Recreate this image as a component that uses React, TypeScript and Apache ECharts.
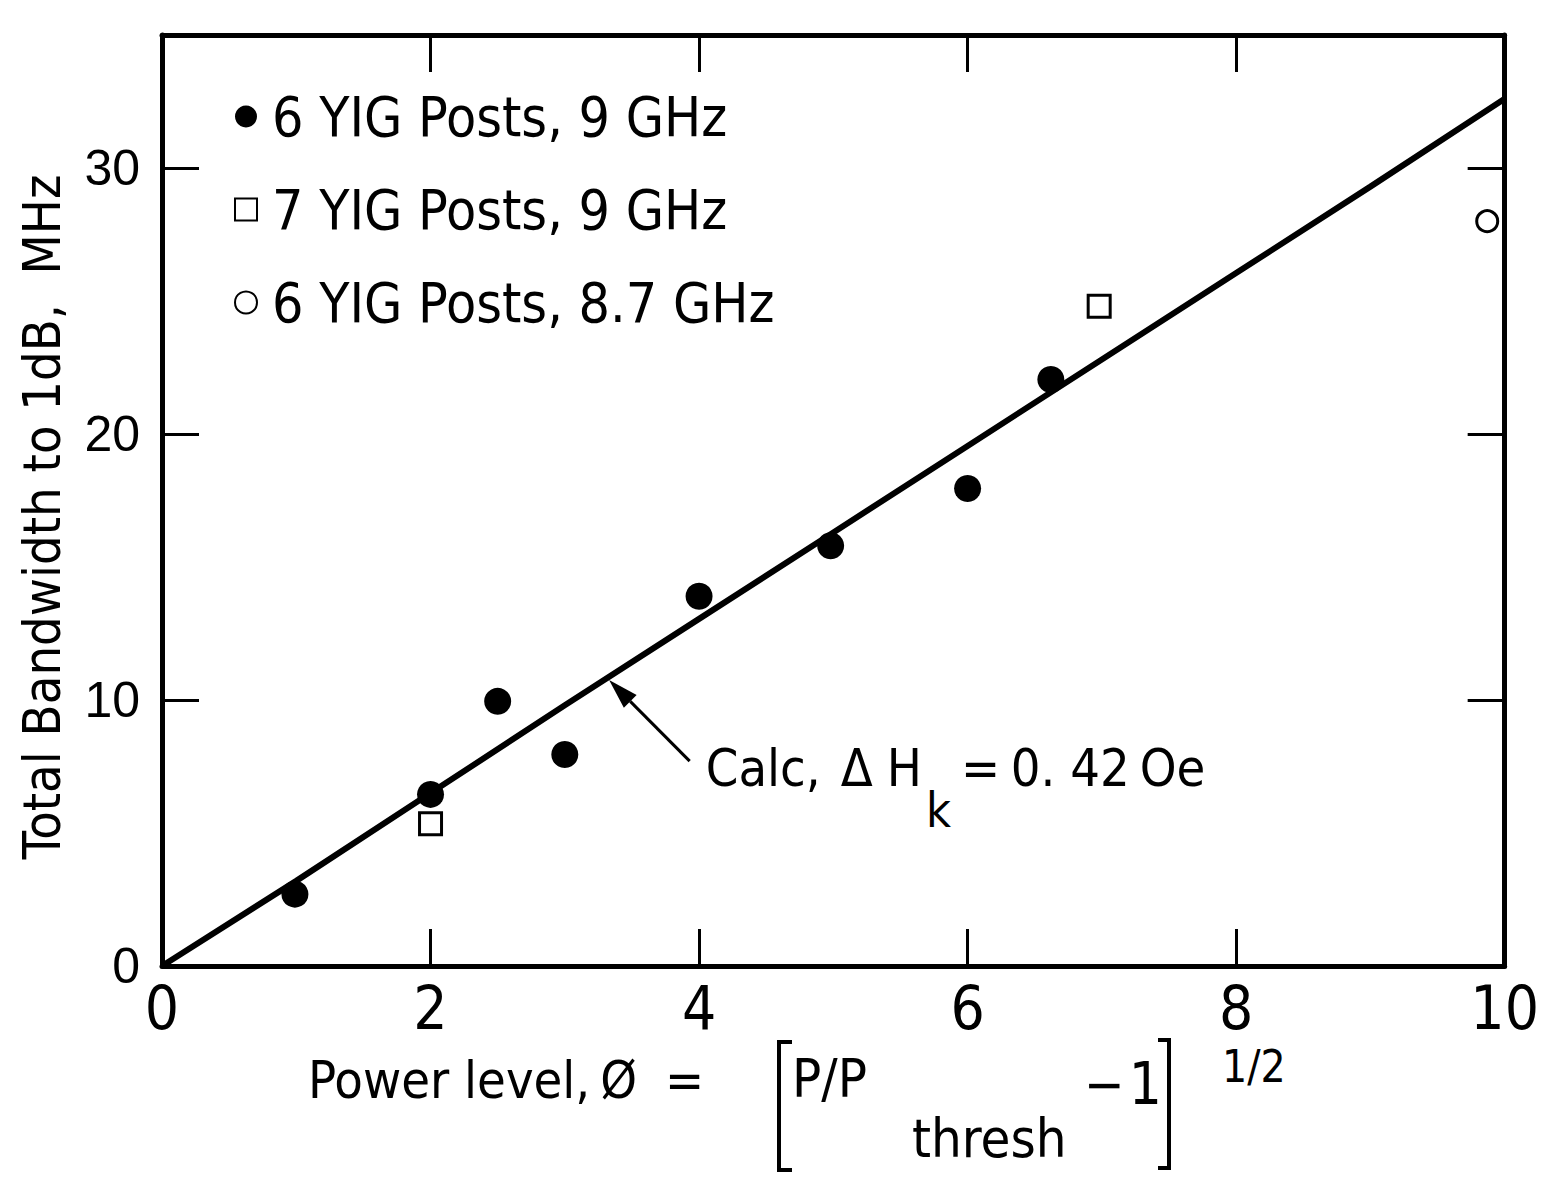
import React, { useEffect, useRef } from "react";
import * as echarts from "echarts";

const FONT = "'Liberation Sans Narrow', 'DejaVu Sans Condensed', 'Roboto Condensed', 'Liberation Sans', sans-serif";
const FONT_WIDE = "'Liberation Sans', Arial, sans-serif";

// Data
const xTickLabels = ["0", "2", "4", "6", "8", "10"];
const yTickLabels = ["0", "10", "20", "30"];
const sixPosts9GHz: [number, number][] = [
  [0.99, 2.7], [2.0, 6.45], [2.5, 9.95], [3.0, 7.95], [4.0, 13.9], [4.98, 15.8], [6.0, 17.95], [6.62, 22.05],
];
const sevenPosts9GHz: [number, number][] = [[2.0, 5.35], [6.98, 24.8]];
const sixPosts87GHz: [number, number][] = [[9.87, 28.0]];
const calcX = [0, 1, 2, 3, 4, 5, 6, 7, 8, 9, 10];
const calcY = [0, 3.2, 6.5, 9.8, 13.05, 16.3, 19.55, 22.8, 26.05, 29.3, 32.6];
const seriesNames = ["6 YIG Posts, 9 GHz", "7 YIG Posts, 9 GHz", "6 YIG Posts, 8.7 GHz"];
const arrowTip: [number, number] = [3.33, 10.75];
const arrowTail: [number, number] = [3.93, 7.7];
const annotLabel = [4.05, 7.45];

type Piece = { text: string; x: number; y: number; size: number; gap?: number };

export default function App() {
  const ref = useRef<HTMLDivElement>(null);
  useEffect(() => {
    const chart = echarts.init(ref.current!, null, { renderer: "svg" });
    const axisLine = { show: true, onZero: false, lineStyle: { color: "#000", width: 5 } };
    const tick = { show: true, inside: true, length: 37, lineStyle: { color: "#000", width: 3 } };
    const option: any = {
      animation: false,
      backgroundColor: "#fff",
      grid: { left: 162, right: 35, top: 35, bottom: 213 },
      legend: {
        data: seriesNames,
        orient: "vertical",
        left: 229,
        top: 84,
        itemGap: 38,
        itemWidth: 22,
        itemHeight: 22,
        textStyle: { fontSize: 55, color: "#000", fontFamily: FONT, padding: [0, 0, 0, 10] },
      },
      xAxis: [
        {
          type: "value", min: 0, max: 10, interval: 2, position: "bottom",
          axisLine, axisTick: tick, splitLine: { show: false },
          axisLabel: {
            fontSize: 60, color: "#000", fontFamily: FONT, margin: 12,
            formatter: (v: number) => xTickLabels[Math.round(v / 2)] ?? "",
          },
        },
        {
          type: "value", min: 0, max: 10, interval: 2, position: "top",
          axisLine, axisTick: tick, splitLine: { show: false }, axisLabel: { show: false },
        },
      ],
      yAxis: [
        {
          type: "value", min: 0, max: 35, interval: 10, position: "left",
          axisLine, axisTick: tick, splitLine: { show: false },
          axisLabel: {
            fontSize: 50, color: "#000", fontFamily: FONT_WIDE, margin: 22, showMaxLabel: false,
            formatter: (v: number) => (v % 10 === 0 ? yTickLabels[v / 10] ?? "" : ""),
          },
        },
        {
          type: "value", min: 0, max: 35, interval: 10, position: "right",
          axisLine, axisTick: tick, splitLine: { show: false }, axisLabel: { show: false },
        },
      ],
      series: [
        {
          name: "Calc", type: "line", xAxisIndex: 0, yAxisIndex: 0,
          data: calcX.map((x, i) => [x, calcY[i]]),
          symbol: "none", lineStyle: { color: "#000", width: 6 }, z: 2,
        },
        {
          name: seriesNames[0], type: "scatter", data: sixPosts9GHz, symbol: "circle", symbolSize: 27,
          itemStyle: { color: "#000", opacity: 1 }, z: 3,
        },
        {
          name: seriesNames[1], type: "scatter", data: sevenPosts9GHz, symbol: "rect", symbolSize: 22,
          itemStyle: { color: "#fff", borderColor: "#000", borderWidth: 3, opacity: 1 }, z: 3,
        },
        {
          name: seriesNames[2], type: "scatter", data: sixPosts87GHz, symbol: "circle", symbolSize: 21,
          itemStyle: { color: "#fff", borderColor: "#000", borderWidth: 3, opacity: 1 }, z: 3,
        },
      ],
    };
    chart.setOption(option);

    const ctx = document.createElement("canvas").getContext("2d")!;
    const measure = (t: string, size: number) => {
      ctx.font = `${size}px ${FONT}`;
      return ctx.measureText(t).width;
    };
    // lay out pieces: each at its preferred x, pushed right if it would overlap the previous one
    const layout = (pieces: Piece[], gap = 6) => {
      let end = -Infinity;
      return pieces.map((p) => {
        const x = Math.max(p.x, end + (p.gap ?? gap));
        end = x + measure(p.text, p.size);
        return {
          type: "text", x, y: p.y,
          style: { text: p.text, fontSize: p.size, fontFamily: FONT, fill: "#000", textVerticalAlign: "middle" },
        };
      });
    };

    const px = (d: number[]) => chart.convertToPixel({ xAxisIndex: 0, yAxisIndex: 0 }, d) as number[];
    const tip = px(arrowTip);
    const tail = px(arrowTail);
    const lab = px(annotLabel);
    const dx = tail[0] - tip[0];
    const dy = tail[1] - tip[1];
    const len = Math.hypot(dx, dy);
    const ux = dx / len, uy = dy / len;
    const hl = 30, hw = 9;
    const bx = tip[0] + ux * hl, by = tip[1] + uy * hl;

    const annot = layout([
      { text: "Calc,", x: lab[0], y: lab[1], size: 52 },
      { text: "\u0394", x: lab[0] + 135, y: lab[1], size: 52 },
      { text: "H", x: lab[0] + 181, y: lab[1], size: 52 },
      { text: "k", x: lab[0] + 214, y: lab[1] + 42, size: 48, gap: 4 },
      { text: "=", x: lab[0] + 251, y: lab[1], size: 52 },
      { text: "0. 42", x: lab[0] + 305, y: lab[1], size: 52 },
      { text: "Oe", x: lab[0] + 428, y: lab[1], size: 52 },
    ], 10);

    const xTitle = layout([
      { text: "Power level,", x: 308, y: 1080, size: 52 },
      { text: "\u00D8", x: 597, y: 1080, size: 52 },
      { text: "=", x: 665, y: 1080, size: 52 },
      { text: "P/P", x: 792, y: 1078, size: 54 },
      { text: "thresh", x: 912, y: 1138, size: 54 },
      { text: "\u2212", x: 1084, y: 1084, size: 54 },
      { text: "1", x: 1128, y: 1084, size: 58, gap: 4 },
      { text: "1/2", x: 1222, y: 1066, size: 44 },
    ], 10);

    chart.setOption({
      graphic: [
        { type: "line", shape: { x1: tail[0], y1: tail[1], x2: bx, y2: by }, style: { stroke: "#000", lineWidth: 3 } },
        {
          type: "polygon",
          shape: { points: [[tip[0], tip[1]], [bx - uy * hw, by + ux * hw], [bx + uy * hw, by - ux * hw]] },
          style: { fill: "#000" },
        },
        ...annot,
        {
          type: "text", x: 42, y: 517, rotation: Math.PI / 2,
          style: {
            text: "Total Bandwidth to 1dB,  MHz", fontSize: 52, fontFamily: FONT, fill: "#000",
            textAlign: "center", textVerticalAlign: "middle",
          },
        },
        ...xTitle,
        { type: "polyline", shape: { points: [[792, 1042], [779, 1042], [779, 1170], [792, 1170]] }, style: { stroke: "#000", lineWidth: 4, fill: "none" } },
        { type: "polyline", shape: { points: [[1158, 1040], [1169, 1040], [1169, 1168], [1158, 1168]] }, style: { stroke: "#000", lineWidth: 4, fill: "none" } },
      ],
    });
    return () => chart.dispose();
  }, []);
  return (
    <div
      ref={ref}
      style={{ position: "fixed", left: 0, top: 0, width: 1542, height: 1179, background: "#fff" }}
    />
  );
}
